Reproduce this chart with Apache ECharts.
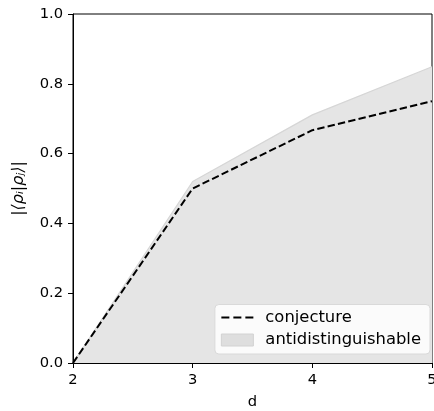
<!DOCTYPE html>
<html><head><meta charset="utf-8">
<script src="https://cdn.jsdelivr.net/npm/echarts@6/dist/echarts.min.js"></script>
<style>html,body{margin:0;padding:0;background:#fff}#c{width:434px;height:411px}</style>
</head><body><div id="c"></div>
<script>
const dims = [2, 3, 4, 5];
const conjecture = [0, 0.5, 0.667, 0.75];
const antidist = [0, 0.52, 0.711, 0.849];
const yTicks = [0, 0.2, 0.4, 0.6, 0.8, 1.0];

const chart = echarts.init(document.getElementById('c'), null, {renderer: 'canvas'});
const font = 'DejaVu Sans';
chart.setOption({
  animation: false,
  grid: {left: 73, right: 2, top: 14, bottom: 48, show: true, borderColor: '#000', borderWidth: 1,
         backgroundColor: 'transparent', containLabel: false, outerBoundsMode: 'none'},
  xAxis: {
    type: 'value', min: 2, max: 5, interval: 1,
    name: 'd', nameLocation: 'middle', nameGap: 32,
    nameTextStyle: {fontFamily: font, fontSize: 14.7, color: '#000'},
    axisLine: {show: true, onZero: false, lineStyle: {color: '#000', width: 1}},
    axisTick: {show: true, length: 5, lineStyle: {color: '#000'}},
    axisLabel: {fontFamily: font, fontSize: 14.7, color: '#000', margin: 10, formatter: v => String(v)},
    splitLine: {show: false}
  },
  yAxis: {
    type: 'value', min: 0, max: 1, interval: 0.2,
    name: '|⟨ρᵢ|ρⱼ⟩|', nameLocation: 'middle', nameGap: 46, nameRotate: 90,
    nameTextStyle: {fontFamily: font, fontSize: 16, color: '#000', fontStyle: 'italic'},
    axisLine: {show: true, lineStyle: {color: '#000', width: 1}},
    axisTick: {show: true, length: 5, lineStyle: {color: '#000'}},
    axisLabel: {fontFamily: font, fontSize: 14.7, color: '#000', margin: 10,
      formatter: v => { const t = yTicks.find(x => Math.abs(x - v) < 1e-9); return (t !== undefined ? t : v).toFixed(1); }},
    splitLine: {show: false}
  },
  legend: {
    right: 4, bottom: 57, orient: 'vertical',
    backgroundColor: 'rgba(255,255,255,0.85)', borderColor: '#d9d9d9', borderWidth: 1, borderRadius: 4,
    padding: [5, 9, 6, 6], itemGap: 6.5, itemWidth: 32, itemHeight: 12,
    textStyle: {fontFamily: font, fontSize: 16.4, color: '#000', lineHeight: 16, padding: [0, 0, 0, 7]},
    data: [
      {name: 'conjecture', icon: 'path://M0,5 L8,5 L8,7 L0,7 Z M12,5 L20,5 L20,7 L12,7 Z M24,5 L32,5 L32,7 L24,7 Z', itemStyle: {color: '#000'}},
      {name: 'antidistinguishable', icon: 'rect', itemStyle: {color: '#dedede', borderColor: '#d2d2d2', borderWidth: 1}}
    ]
  },
  series: [
    {
      name: 'antidistinguishable', type: 'line', data: dims.map((d, i) => [d, antidist[i]]),
      symbol: 'none', z: 1,
      lineStyle: {color: '#d6d6d6', width: 1.2},
      itemStyle: {color: '#dedede'},
      areaStyle: {color: '#e5e5e5', opacity: 1}
    },
    {
      name: 'conjecture', type: 'line', data: dims.map((d, i) => [d, conjecture[i]]),
      symbol: 'none', z: 3,
      lineStyle: {color: '#000', width: 2, type: [7.4, 3.2]},
      itemStyle: {color: '#000'}
    }
  ]
});
</script></body></html>
